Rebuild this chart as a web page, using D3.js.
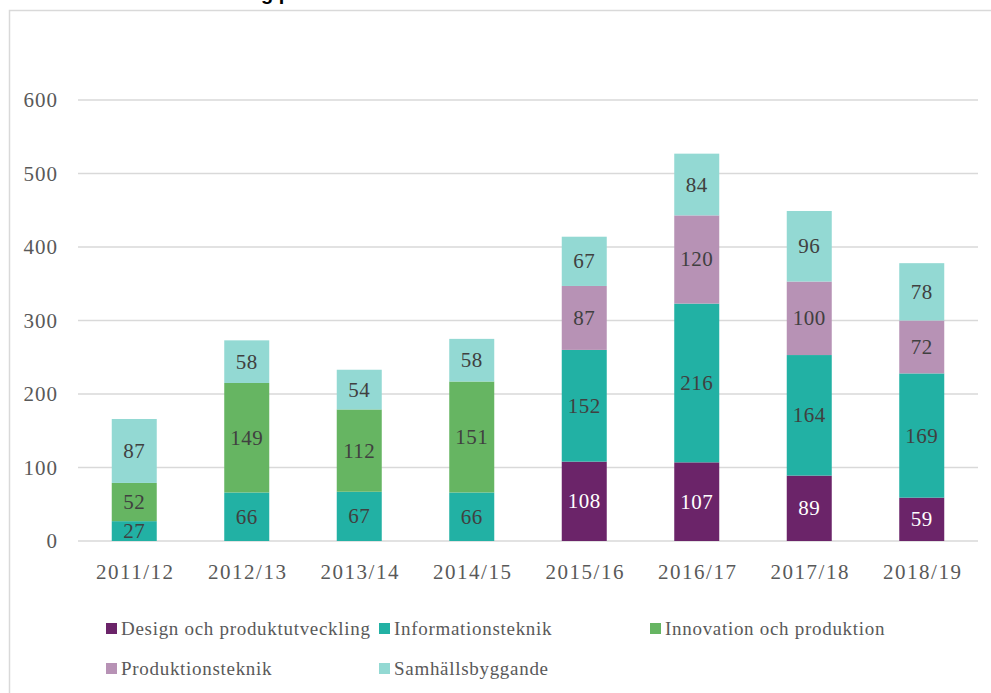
<!DOCTYPE html>
<html>
<head>
<meta charset="utf-8">
<script src="https://cdn.jsdelivr.net/npm/d3@7"></script>
<style>
  body { margin: 0; background: #fff; }
  svg { display: block; }
</style>
</head>
<body>
<svg width="991" height="693"></svg>
<script>
// data
var years = ["2011/12", "2012/13", "2013/14", "2014/15", "2015/16", "2016/17", "2017/18", "2018/19"];
var seriesNames = ["Design och produktutveckling", "Informationsteknik", "Innovation och produktion", "Produktionsteknik", "Samhällsbyggande"];
var design = [0, 0, 0, 0, 108, 107, 89, 59];
var info = [27, 66, 67, 66, 152, 216, 164, 169];
var innovation = [52, 149, 112, 151, 0, 0, 0, 0];
var produktion = [0, 0, 0, 0, 87, 120, 100, 72];
var samhall = [87, 58, 54, 58, 67, 84, 96, 78];
var yTicks = [0, 100, 200, 300, 400, 500, 600];

var colors = ["#6b2469", "#22b1a4", "#66b562", "#b792b5", "#93d9d3"];
var textColors = ["#ffffff", "#404040", "#404040", "#404040", "#404040"];

var svg = d3.select("svg");
var serif = "'Liberation Serif', 'DejaVu Serif', serif";

// frame
svg.append("rect")
    .attr("x", 9.5).attr("y", 10.5)
    .attr("width", 1000).attr("height", 700)
    .attr("fill", "none").attr("stroke", "#d9d9d9").attr("stroke-width", 1.5);

// cut-off title (only descenders visible, as in the source)
svg.append("text")
    .attr("x", 261).attr("y", 0)
    .attr("font-family", "Arial, 'Liberation Sans', sans-serif")
    .attr("font-weight", "bold").attr("font-size", 20)
    .attr("fill", "#000")
    .text("g p");

// build table for stacking
var table = years.map(function(y, i) {
    return {year: y, s0: design[i], s1: info[i], s2: innovation[i], s3: produktion[i], s4: samhall[i]};
});
var keys = ["s0", "s1", "s2", "s3", "s4"];
var stacked = d3.stack().keys(keys)(table);

var x = d3.scaleBand().domain(years).range([78, 978]).paddingInner(0.6).paddingOuter(0.3);
var y = d3.scaleLinear().domain([0, 600]).range([541, 100]);

// gridlines
svg.append("g")
    .selectAll("line")
    .data(yTicks)
    .join("line")
    .attr("x1", 78).attr("x2", 978)
    .attr("y1", d => y(d)).attr("y2", d => y(d))
    .attr("stroke", "#d9d9d9").attr("stroke-width", 1.5);

// y labels
svg.append("g")
    .selectAll("text")
    .data(yTicks)
    .join("text")
    .attr("x", 58).attr("y", d => y(d) + 7)
    .attr("text-anchor", "end")
    .attr("font-family", serif).attr("font-size", 21)
    .attr("letter-spacing", 1)
    .attr("fill", "#595959")
    .text(d => d);

// x labels
svg.append("g")
    .selectAll("text")
    .data(years)
    .join("text")
    .attr("x", d => x(d) + x.bandwidth() / 2 + 1).attr("y", 579)
    .attr("text-anchor", "middle")
    .attr("font-family", serif).attr("font-size", 21)
    .attr("letter-spacing", 1.5)
    .attr("fill", "#595959")
    .text(d => d);

// bars
var layer = svg.append("g")
    .selectAll("g")
    .data(stacked)
    .join("g")
    .attr("fill", (d, i) => colors[i]);

layer.selectAll("rect")
    .data(d => d.filter(s => s[1] - s[0] > 0))
    .join("rect")
    .attr("x", d => x(d.data.year))
    .attr("width", x.bandwidth())
    .attr("y", d => y(d[1]))
    .attr("height", d => y(d[0]) - y(d[1]));

// segment labels
stacked.forEach(function(s, i) {
    svg.append("g")
        .selectAll("text")
        .data(s.filter(d => d[1] - d[0] > 0))
        .join("text")
        .attr("x", d => x(d.data.year) + x.bandwidth() / 2)
        .attr("y", d => (y(d[0]) + y(d[1])) / 2 + 7)
        .attr("text-anchor", "middle")
        .attr("font-family", serif).attr("font-size", 21)
        .attr("letter-spacing", 0.5)
        .attr("fill", textColors[i])
        .text(d => d[1] - d[0]);
});

// legend
var legendPos = [[106, 629], [379, 629], [650, 629], [106, 669], [379, 669]];
var legend = svg.append("g")
    .selectAll("g")
    .data(seriesNames)
    .join("g")
    .attr("transform", (d, i) => "translate(" + legendPos[i][0] + "," + legendPos[i][1] + ")");

legend.append("rect")
    .attr("x", 0).attr("y", -6)
    .attr("width", 11).attr("height", 11)
    .attr("fill", (d, i) => colors[i]);

legend.append("text")
    .attr("x", 15).attr("y", 6)
    .attr("font-family", serif).attr("font-size", 19)
    .attr("letter-spacing", 0.7)
    .attr("fill", "#595959")
    .text(d => d);
</script>
</body>
</html>
